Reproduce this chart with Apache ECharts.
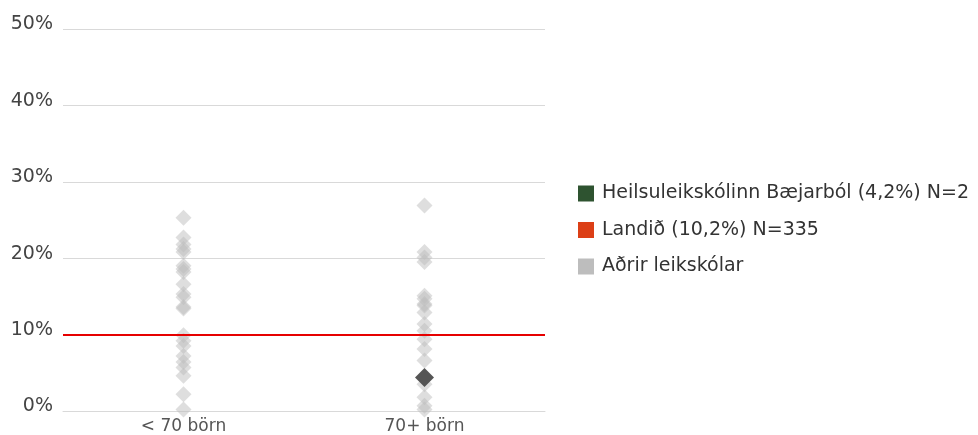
<!DOCTYPE html>
<html>
<head>
<meta charset="utf-8">
<script src="https://cdn.jsdelivr.net/npm/echarts@6/dist/echarts.min.js"></script>
<style>html,body{margin:0;padding:0;background:#fff;}#c{width:978px;height:435px;}</style>
</head>
<body>
<div id="c"></div>
<script>
const categories = ['< 70 börn', '70+ börn'];
const yTicks = [0, 10, 20, 30, 40, 50];
const othersSmall = [25.3, 22.7, 21.8, 21.2, 20.8, 19.0, 18.6, 18.2, 16.6, 15.3, 14.9, 13.6, 13.4, 9.9, 9.2, 8.5, 7.2, 6.4, 5.7, 4.6, 2.2, 0.2];
const othersLarge = [26.9, 20.8, 20.1, 19.5, 15.1, 14.7, 14.0, 13.8, 12.9, 11.4, 10.5, 9.4, 8.1, 6.6, 3.5, 1.8, 0.7, 0.2];
const schoolValue = [{ cat: '70+ börn', value: 4.4 }];
const nationalValue = 10;
const seriesNames = ['Heilsuleikskólinn Bæjarból (4,2%) N=2', 'Landið (10,2%) N=335', 'Aðrir leikskólar'];

const FONT = 'DejaVu Sans';
const othersData = othersSmall.map(v => [categories[0], v]).concat(othersLarge.map(v => [categories[1], v]));

const chart = echarts.init(document.getElementById('c'));
chart.setOption({
  animation: false,
  textStyle: { fontFamily: FONT },
  grid: { left: 63, right: 433, top: 29, bottom: 24, containLabel: false },
  legend: {
    orient: 'vertical',
    left: 578,
    top: 184,
    padding: 0,
    itemWidth: 16,
    itemHeight: 16,
    itemGap: 17.5,
    textStyle: { fontSize: 19, color: '#333', fontFamily: FONT, padding: [0, 0, 0, 3] },
    data: [
      { name: seriesNames[0], icon: 'rect', itemStyle: { color: '#2e5330', opacity: 1 } },
      { name: seriesNames[1], icon: 'rect', itemStyle: { color: '#dc3f16', opacity: 1 } },
      { name: seriesNames[2], icon: 'rect', itemStyle: { color: '#bdbdbd', opacity: 1 } }
    ]
  },
  xAxis: {
    type: 'category',
    data: categories,
    boundaryGap: true,
    axisLine: { lineStyle: { color: '#d9d9d9', width: 1 } },
    axisTick: { show: false },
    axisLabel: { color: '#555', fontSize: 17, margin: 7 },
    splitLine: { show: false }
  },
  yAxis: {
    type: 'value',
    min: yTicks[0],
    max: yTicks[yTicks.length - 1],
    interval: 10,
    axisLine: { show: false },
    axisTick: { show: false },
    axisLabel: {
      color: '#444', fontSize: 19, margin: 10,
      formatter: v => '{a|' + v + '%}',
      rich: { a: { color: '#444', fontSize: 19, fontFamily: FONT, padding: [0, 0, 9, 0] } }
    },
    splitLine: { lineStyle: { color: '#d9d9d9', width: 1 } }
  },
  series: [
    {
      name: seriesNames[2],
      type: 'scatter',
      symbol: 'diamond',
      symbolSize: 16,
      itemStyle: { color: '#bdbdbd', opacity: 0.5 },
      data: othersData,
      z: 2
    },
    {
      name: seriesNames[1],
      type: 'line',
      data: [],
      itemStyle: { color: '#e00000' },
      markLine: {
        silent: true,
        symbol: 'none',
        label: { show: false },
        lineStyle: { color: '#e60000', width: 2, type: 'solid' },
        data: [{ yAxis: nationalValue }]
      },
      z: 3
    },
    {
      name: seriesNames[0],
      type: 'scatter',
      symbol: 'diamond',
      symbolSize: 19,
      itemStyle: { color: '#555555', opacity: 1 },
      data: schoolValue.map(d => [d.cat, d.value]),
      z: 4
    }
  ]
});
</script>
</body>
</html>
